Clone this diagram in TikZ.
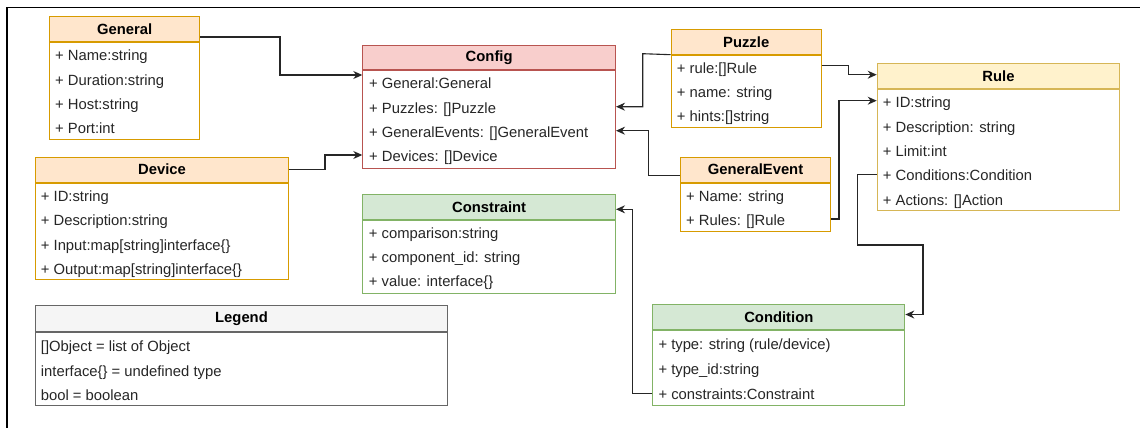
\documentclass[tikz,border=0pt]{standalone}
\usepackage{fontspec}
\setmainfont{Liberation Sans}
\usetikzlibrary{arrows.meta}

\definecolor{orgfill}{HTML}{FFE6CC}\definecolor{orgline}{HTML}{D79B00}
\definecolor{redfill}{HTML}{F8CECC}\definecolor{redline}{HTML}{B85450}
\definecolor{yelfill}{HTML}{FFF2CC}\definecolor{yelline}{HTML}{D6B656}
\definecolor{grnfill}{HTML}{D5E8D4}\definecolor{grnline}{HTML}{82B366}
\definecolor{gryfill}{HTML}{F5F5F5}\definecolor{gryline}{HTML}{666666}
\definecolor{itemtext}{HTML}{262626}

% #1 name, #2 x, #3 y, #4 width, #5 body height, #6 fill, #7 line, #8 title, #9 header height
\newcommand\classbox[9]{%
  \node[head, fill=#6, draw=#7, minimum width=#4pt, minimum height=#9pt] (#1) at (#2,#3) {#8};
  \node[body, draw=#7, minimum width=#4pt, minimum height=#5pt] (#1-body) at (#1.south west) {};
}

\begin{document}
\begin{tikzpicture}[x=1pt, y=-1pt,
  head/.style={anchor=north west, inner sep=0pt, line width=1pt,
    font=\fontsize{14.8}{17}\selectfont\bfseries, text=black},
  body/.style={anchor=north west, inner sep=0pt, line width=1pt, fill=white},
  item/.style={anchor=base west, inner sep=0pt, text=itemtext,
    font=\fontsize{14.8}{17}\selectfont},
  conn/.style={draw=black!85, line width=1.1pt,
    -{Stealth[length=9pt,width=8pt]}},
]
\useasboundingbox (0,0) rectangle (1140,428);

% page frame
\draw[line width=1.4pt] (1140,7.3) -- (7,7.3) -- (7,428);

% classes
\classbox{general}{49.3}{16}{149.7}{97}{orgfill}{orgline}{General}{25}
\node[item] (general-1) at (55,61) {+ Name:string};
\node[item] (general-2) at (55,85) {+ Duration:string};
\node[item] (general-3) at (55,109) {+ Host:string};
\node[item] (general-4) at (55,133) {+ Port:int};

\classbox{config}{362.3}{44.7}{252.7}{97.4}{redfill}{redline}{Config}{24.6}
\node[item] (config-1) at (369,88.5) {+ General:General};
\node[item] (config-2) at (369,113) {+ Puzzles: []Puzzle};
\node[item] (config-3) at (369,137) {+ GeneralEvents: []GeneralEvent};
\node[item] (config-4) at (369,161.5) {+ Devices: []Device};

\classbox{puzzle}{670.7}{29}{150}{72.3}{orgfill}{orgline}{Puzzle}{24.7}
\node[item] (puzzle-1) at (676.7,73.3) {+ rule:[]Rule};
\node[item] (puzzle-2) at (676.7,97.3) {+ name: string};
\node[item] (puzzle-3) at (676.7,121.7) {+ hints:[]string};

\classbox{genevent}{680}{156.7}{150}{48.3}{orgfill}{orgline}{GeneralEvent}{25}
\node[item] (genevent-1) at (686,201) {+ Name: string};
\node[item] (genevent-2) at (686,225) {+ Rules: []Rule};

\classbox{rule}{876.7}{63.3}{242.6}{121.3}{yelfill}{yelline}{Rule}{24.4}
\node[item] (rule-1) at (882.7,107.3) {+ ID:string};
\node[item] (rule-2) at (882.7,132.3) {+ Description: string};
\node[item] (rule-3) at (882.7,156) {+ Limit:int};
\node[item] (rule-4) at (882.7,180.7) {+ Conditions:Condition};
\node[item] (rule-5) at (882.7,205) {+ Actions: []Action};

\classbox{device}{35.3}{156.7}{252.4}{96.6}{orgfill}{orgline}{Device}{25}
\node[item] (device-1) at (40.7,201.7) {+ ID:string};
\node[item] (device-2) at (40.7,225.7) {+ Description:string};
\node[item] (device-3) at (40.7,250) {+ Input:map[string]interface\{\}};
\node[item] (device-4) at (40.7,274) {+ Output:map[string]interface\{\}};

\classbox{constraint}{362.3}{194.3}{252.7}{72.4}{grnfill}{grnline}{Constraint}{25}
\node[item] (constraint-1) at (368.7,238.3) {+ comparison:string};
\node[item] (constraint-2) at (368.7,262.5) {+ component\_id: string};
\node[item] (constraint-3) at (368.7,286.7) {+ value: interface\{\}};

\classbox{legend}{35.3}{305}{411.4}{73}{gryfill}{gryline}{Legend}{26}
\node[item] (legend-1) at (40.7,351) {[]Object = list of Object};
\node[item] (legend-2) at (40.7,376) {interface\{\} = undefined type};
\node[item] (legend-3) at (40.7,400.5) {bool = boolean};

\classbox{condition}{652.3}{304.3}{252}{75}{grnfill}{grnline}{Condition}{25}
\node[item] (condition-1) at (658.3,349) {+ type: string (rule/device)};
\node[item] (condition-2) at (658.3,374) {+ type\_id:string};
\node[item] (condition-3) at (658.3,399.5) {+ constraints:Constraint};

% associations
\draw[conn] (general.east |- 0,37) -- (280,37) |- (config-body.west |- 0,75);
\draw[conn] (device.east |- 0,169.3) -- (325,169.3) |- (config-body.west |- 0,155);
\draw[conn] (puzzle.south west) -- (642.7,53.7) |- (config-body.east |- 0,106.7);
\draw[conn] (genevent.west |- 0,175.7) -- (648.7,175.7) |- (config-body.east |- 0,130.7);
\draw[conn] (puzzle-body.east |- 0,65.3) -- (848.3,65.3) |- (rule.west |- 0,74.7);
\draw[conn] (genevent-body.east |- 0,219) -- (839,219) |- (rule-body.west |- 0,100.7);
\draw[conn] (rule-body.west |- 0,174.5) -- (857.3,174.5) -- (857.3,245) -- (923,245)
  |- (condition.east |- 0,314.5);
\draw[conn] (condition-body.west |- 0,393.5) -- (632.7,393.5) |- (constraint.east |- 0,209.3);
\end{tikzpicture}
\end{document}
